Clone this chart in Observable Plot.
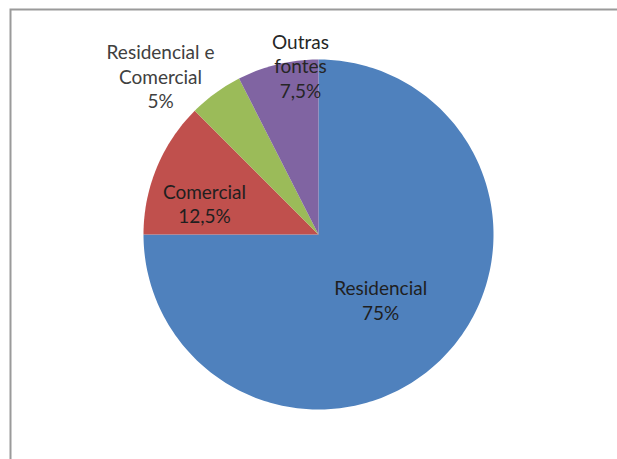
<!DOCTYPE html>
<html>
<head>
<meta charset="utf-8">
<script src="https://cdn.jsdelivr.net/npm/d3@7"></script>
<script src="https://cdn.jsdelivr.net/npm/@observablehq/plot@0.6"></script>
<style>
  html, body { margin: 0; padding: 0; background: #fff; }
  #chart svg { display: block; }
</style>
</head>
<body>
<div id="chart"></div>
<script>
// ---- data ----
const categories = ["Residencial", "Comercial", "Residencial e Comercial", "Outras fontes"];
const values = [75, 12.5, 5, 7.5];
const labelTexts = ["Residencial\n75%", "Comercial\n12,5%", "Residencial e\nComercial\n5%", "Outras\nfontes\n7,5%"];

// ---- style / layout ----
const colors = ["#4F81BD", "#C0504D", "#9BBB59", "#8064A2"];
const labelColors = ["#1f1f1f", "#1f1f1f", "#404040", "#262626"];
const labelRadius = [0.515, 0.676, 1.279, 0.971];
const labelNudgeDeg = [1.4, -7.1, -8.9, 7.4];

// ---- geometry from data ----
const pie = d3.pie().sort(null).value(d => d)(values);
const polys = [];
pie.forEach((s, i) => {
  const n = Math.max(2, Math.ceil((s.endAngle - s.startAngle) / (Math.PI * 2) * 360));
  polys.push({name: categories[i], x: 0, y: 0});
  for (let k = 0; k <= n; k++) {
    const a = s.startAngle + (s.endAngle - s.startAngle) * k / n;
    polys.push({name: categories[i], x: Math.sin(a), y: Math.cos(a)});
  }
  polys.push({name: categories[i], x: 0, y: 0});
});
const labels = pie.map((s, i) => {
  const a = (s.startAngle + s.endAngle) / 2 + labelNudgeDeg[i] * Math.PI / 180;
  return {
    name: categories[i],
    text: labelTexts[i],
    color: labelColors[i],
    x: Math.sin(a) * labelRadius[i],
    y: Math.cos(a) * labelRadius[i]
  };
});

const chart = Plot.plot({
  width: 617,
  height: 459,
  margin: 0,
  style: {background: "#fff", fontFamily: "Lato, 'Open Sans', sans-serif"},
  x: {domain: [-1, 1], range: [143, 493], axis: null},
  y: {domain: [-1, 1], range: [409, 59], axis: null},
  color: {domain: categories, range: colors},
  marks: [
    Plot.frame({stroke: "#9a9a9a", strokeWidth: 2, insetLeft: 10, insetTop: 9, insetRight: -5, insetBottom: -5}),
    Plot.line(polys, {x: "x", y: "y", z: "name", fill: "name", stroke: "none", curve: "linear"}),
    Plot.text(labels, {
      x: "x", y: "y", text: "text", fill: d => d.color,
      fontSize: 19, lineHeight: 1.29, textAnchor: "middle", lineAnchor: "middle"
    })
  ]
});
document.getElementById("chart").appendChild(chart);
</script>
</body>
</html>
